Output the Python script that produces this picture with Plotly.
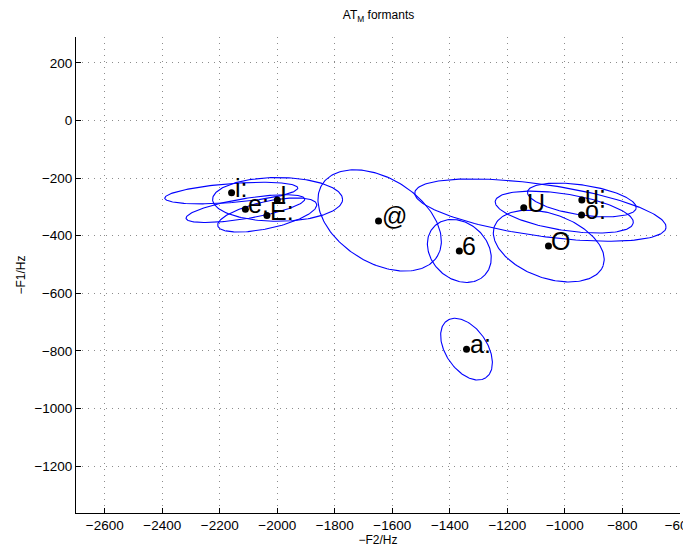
import numpy as np
import plotly.graph_objects as go

# Vowel labels and their mean formant positions (-F2, -F1) in Hz
vowels = ["i:", "e:", "I", "E:", "@", "6", "U", "u:", "o:", "O", "a:"]
neg_f2 = [-2159, -2111, -2000, -2036, -1648, -1367, -1143, -941, -942, -1057, -1342]
neg_f1 = [-251, -308, -276, -330, -349, -453, -303, -276, -328, -436, -794]

# Spread ellipses: centre (-F2, -F1), semi-axes (Hz), rotation (degrees)
ell_cx = [-2160, -2111, -1999, -2035, -1644, -1367, -1085, -941, -1002, -1056, -1342]
ell_cy = [-252, -306, -274, -328, -347, -453, -311, -276, -318, -436, -794]
ell_a = [232, 209, 226, 176, 236, 122, 441, 191, 243, 201, 120]
ell_b = [33, 35, 76, 47, 146, 97, 90, 52, 63, 111, 72]
ell_ang = [4.4, 9.3, 0, 12.3, -32, -43, -8, -8.5, -9, -19.8, -55.8]

x_ticks = list(range(-2600, -599, 200))
y_ticks = list(range(-1200, 201, 200))

FONT = "Liberation Sans, Arial, sans-serif"

fig = go.Figure()

t = np.linspace(0, 2 * np.pi, 181)
for cx, cy, a, b, ang in zip(ell_cx, ell_cy, ell_a, ell_b, ell_ang):
    th = np.deg2rad(ang)
    ex = cx + a * np.cos(th) * np.cos(t) - b * np.sin(th) * np.sin(t)
    ey = cy + a * np.sin(th) * np.cos(t) + b * np.cos(th) * np.sin(t)
    fig.add_trace(go.Scatter(x=ex, y=ey, mode="lines",
                             line=dict(color="#0000ff", width=1.1),
                             hoverinfo="skip", showlegend=False))

fig.add_trace(go.Scatter(x=neg_f2, y=neg_f1, mode="markers",
                         marker=dict(color="black", size=7),
                         showlegend=False))

for v, x, y in zip(vowels, neg_f2, neg_f1):
    fig.add_annotation(x=x, y=y, text=v, showarrow=False,
                       xanchor="left", yanchor="middle", xshift=1, yshift=5,
                       font=dict(family=FONT, size=25, color="black"))

axis_common = dict(
    showline=True, linecolor="black", linewidth=1,
    ticks="inside", ticklen=5, tickcolor="black",
    showgrid=True, gridcolor="#8c8c8c", gridwidth=1, griddash="1px,5px",
    zeroline=False, mirror=False, automargin=False,
    ticklabeloverflow="allow",
    tickfont=dict(family=FONT, size=13.5, color="black"),
)

fig.update_layout(
    width=690, height=541,
    margin=dict(l=68, r=18, t=29, b=36),
    paper_bgcolor="white", plot_bgcolor="white",
    title=dict(text="AT<sub>M</sub> formants", x=0.537, xanchor="center",
               y=0.987, yanchor="middle",
               font=dict(family=FONT, size=12, color="black")),
    xaxis=dict(range=[-2700, -599.6], tickvals=x_ticks,
               title=dict(text="−F2/Hz", standoff=3,
                          font=dict(family=FONT, size=12, color="black")),
               **axis_common),
    yaxis=dict(range=[-1363, 290], tickvals=y_ticks,
               title=dict(text="−F1/Hz", standoff=6,
                          font=dict(family=FONT, size=12, color="black")),
               **axis_common),
)

fig.write_html("out.html")
